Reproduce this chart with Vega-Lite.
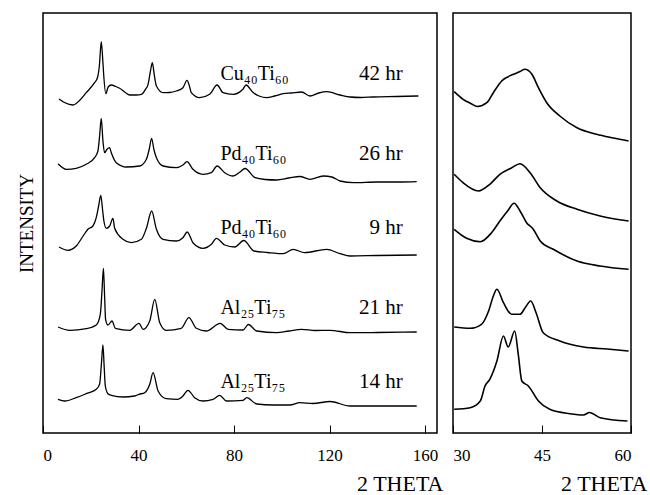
{
  "$schema": "https://vega.github.io/schema/vega-lite/v6.json",
  "padding": {"left": 16, "top": 12, "right": 0, "bottom": 0},
  "bounds": "flush",
  "config": {
    "font": "Liberation Serif",
    "view": {"stroke": "black", "strokeWidth": 1.5},
    "concat": {"spacing": 16},
    "axis": {"grid": false, "domain": false, "labelColor": "black", "titleColor": "black", "tickColor": "black", "labelFont": "Liberation Serif", "titleFont": "Liberation Serif", "titleFontWeight": "normal"},
    "text": {"font": "Liberation Serif", "color": "black"}
  },
  "datasets": {
    "left": [
      {"trace": "Cu 42", "theta": 6.7, "intensity": 334}, {"trace": "Cu 42", "theta": 9, "intensity": 330.5}, {"trace": "Cu 42", "theta": 12.6, "intensity": 328}, {"trace": "Cu 42", "theta": 15.5, "intensity": 333}, {"trace": "Cu 42", "theta": 18.1, "intensity": 340.3}, {"trace": "Cu 42", "theta": 21.6, "intensity": 350.3}, {"trace": "Cu 42", "theta": 22.8, "intensity": 355.3}, {"trace": "Cu 42", "theta": 23.6, "intensity": 367}, {"trace": "Cu 42", "theta": 24.4, "intensity": 391.3}, {"trace": "Cu 42", "theta": 25.0, "intensity": 374}, {"trace": "Cu 42", "theta": 25.4, "intensity": 358.7}, {"trace": "Cu 42", "theta": 26.3, "intensity": 339.3}, {"trace": "Cu 42", "theta": 27.3, "intensity": 346}, {"trace": "Cu 42", "theta": 28.6, "intensity": 348}, {"trace": "Cu 42", "theta": 30.5, "intensity": 346.5}, {"trace": "Cu 42", "theta": 32.1, "intensity": 344.7}, {"trace": "Cu 42", "theta": 34.5, "intensity": 340.5}, {"trace": "Cu 42", "theta": 36.3, "intensity": 338}, {"trace": "Cu 42", "theta": 39, "intensity": 338}, {"trace": "Cu 42", "theta": 41.2, "intensity": 338.7}, {"trace": "Cu 42", "theta": 43, "intensity": 344}, {"trace": "Cu 42", "theta": 44, "intensity": 348.7}, {"trace": "Cu 42", "theta": 45, "intensity": 362}, {"trace": "Cu 42", "theta": 45.8, "intensity": 370.3}, {"trace": "Cu 42", "theta": 46.6, "intensity": 358}, {"trace": "Cu 42", "theta": 47.5, "intensity": 347}, {"trace": "Cu 42", "theta": 50.3, "intensity": 340.3}, {"trace": "Cu 42", "theta": 53, "intensity": 340.5}, {"trace": "Cu 42", "theta": 55.8, "intensity": 342}, {"trace": "Cu 42", "theta": 58.6, "intensity": 345.3}, {"trace": "Cu 42", "theta": 60.3, "intensity": 352.7}, {"trace": "Cu 42", "theta": 61.2, "intensity": 348}, {"trace": "Cu 42", "theta": 62.1, "intensity": 340.3}, {"trace": "Cu 42", "theta": 65.6, "intensity": 335.3}, {"trace": "Cu 42", "theta": 69.8, "intensity": 338.7}, {"trace": "Cu 42", "theta": 72.9, "intensity": 348}, {"trace": "Cu 42", "theta": 75.4, "intensity": 340.3}, {"trace": "Cu 42", "theta": 79.6, "intensity": 338.7}, {"trace": "Cu 42", "theta": 83.8, "intensity": 344}, {"trace": "Cu 42", "theta": 85, "intensity": 348}, {"trace": "Cu 42", "theta": 88, "intensity": 340.5}, {"trace": "Cu 42", "theta": 90.5, "intensity": 337}, {"trace": "Cu 42", "theta": 93.7, "intensity": 335.3}, {"trace": "Cu 42", "theta": 97, "intensity": 337}, {"trace": "Cu 42", "theta": 100.6, "intensity": 339.3}, {"trace": "Cu 42", "theta": 104, "intensity": 340}, {"trace": "Cu 42", "theta": 108.3, "intensity": 341}, {"trace": "Cu 42", "theta": 111.8, "intensity": 337}, {"trace": "Cu 42", "theta": 115.5, "intensity": 340}, {"trace": "Cu 42", "theta": 118.8, "intensity": 341.3}, {"trace": "Cu 42", "theta": 124.4, "intensity": 338}, {"trace": "Cu 42", "theta": 128.6, "intensity": 336}, {"trace": "Cu 42", "theta": 133, "intensity": 335.5}, {"trace": "Cu 42", "theta": 138.3, "intensity": 336}, {"trace": "Cu 42", "theta": 148, "intensity": 336.5}, {"trace": "Cu 42", "theta": 157.2, "intensity": 337},

      {"trace": "Pd 26", "theta": 6.3, "intensity": 269.3}, {"trace": "Pd 26", "theta": 9.8, "intensity": 263.7}, {"trace": "Pd 26", "theta": 13.9, "intensity": 264.7}, {"trace": "Pd 26", "theta": 18.1, "intensity": 268.7}, {"trace": "Pd 26", "theta": 21.6, "intensity": 275.3}, {"trace": "Pd 26", "theta": 23, "intensity": 282}, {"trace": "Pd 26", "theta": 23.7, "intensity": 297}, {"trace": "Pd 26", "theta": 24.4, "intensity": 314.7}, {"trace": "Pd 26", "theta": 25.1, "intensity": 292}, {"trace": "Pd 26", "theta": 25.8, "intensity": 280.3}, {"trace": "Pd 26", "theta": 26.8, "intensity": 283.7}, {"trace": "Pd 26", "theta": 27.9, "intensity": 285.3}, {"trace": "Pd 26", "theta": 28.6, "intensity": 280.3}, {"trace": "Pd 26", "theta": 30.7, "intensity": 270.3}, {"trace": "Pd 26", "theta": 34.9, "intensity": 266}, {"trace": "Pd 26", "theta": 40.5, "intensity": 267}, {"trace": "Pd 26", "theta": 43.3, "intensity": 273.7}, {"trace": "Pd 26", "theta": 44.5, "intensity": 284}, {"trace": "Pd 26", "theta": 45.5, "intensity": 294.7}, {"trace": "Pd 26", "theta": 46.4, "intensity": 284}, {"trace": "Pd 26", "theta": 47.5, "intensity": 275.3}, {"trace": "Pd 26", "theta": 50.3, "intensity": 267}, {"trace": "Pd 26", "theta": 55.8, "intensity": 265.3}, {"trace": "Pd 26", "theta": 58.6, "intensity": 268}, {"trace": "Pd 26", "theta": 60.3, "intensity": 271.3}, {"trace": "Pd 26", "theta": 62.8, "intensity": 263.7}, {"trace": "Pd 26", "theta": 67, "intensity": 258.7}, {"trace": "Pd 26", "theta": 70.5, "intensity": 260.3}, {"trace": "Pd 26", "theta": 72.9, "intensity": 267}, {"trace": "Pd 26", "theta": 76.1, "intensity": 260.3}, {"trace": "Pd 26", "theta": 79.6, "intensity": 257}, {"trace": "Pd 26", "theta": 82.5, "intensity": 261}, {"trace": "Pd 26", "theta": 84.6, "intensity": 264.5}, {"trace": "Pd 26", "theta": 88.8, "intensity": 255.3}, {"trace": "Pd 26", "theta": 93, "intensity": 253.5}, {"trace": "Pd 26", "theta": 97.9, "intensity": 253}, {"trace": "Pd 26", "theta": 103, "intensity": 255}, {"trace": "Pd 26", "theta": 107.6, "intensity": 256.5}, {"trace": "Pd 26", "theta": 111.8, "intensity": 253.7}, {"trace": "Pd 26", "theta": 117.4, "intensity": 257}, {"trace": "Pd 26", "theta": 121, "intensity": 256}, {"trace": "Pd 26", "theta": 124.4, "intensity": 252}, {"trace": "Pd 26", "theta": 130, "intensity": 250.3}, {"trace": "Pd 26", "theta": 140, "intensity": 251}, {"trace": "Pd 26", "theta": 150, "intensity": 251}, {"trace": "Pd 26", "theta": 156.5, "intensity": 251.3},

      {"trace": "Pd 9", "theta": 6.7, "intensity": 186}, {"trace": "Pd 9", "theta": 10.5, "intensity": 182.7}, {"trace": "Pd 9", "theta": 13.9, "intensity": 187}, {"trace": "Pd 9", "theta": 16.8, "intensity": 197}, {"trace": "Pd 9", "theta": 18.8, "intensity": 203.7}, {"trace": "Pd 9", "theta": 20.9, "intensity": 207}, {"trace": "Pd 9", "theta": 22.3, "intensity": 215.3}, {"trace": "Pd 9", "theta": 23.3, "intensity": 227}, {"trace": "Pd 9", "theta": 24.2, "intensity": 237.7}, {"trace": "Pd 9", "theta": 25.0, "intensity": 222}, {"trace": "Pd 9", "theta": 25.5, "intensity": 212}, {"trace": "Pd 9", "theta": 26.5, "intensity": 204.7}, {"trace": "Pd 9", "theta": 27.9, "intensity": 207}, {"trace": "Pd 9", "theta": 29.3, "intensity": 214.7}, {"trace": "Pd 9", "theta": 30, "intensity": 204.7}, {"trace": "Pd 9", "theta": 33.5, "intensity": 193.7}, {"trace": "Pd 9", "theta": 37, "intensity": 190.3}, {"trace": "Pd 9", "theta": 41.2, "intensity": 193.7}, {"trace": "Pd 9", "theta": 43.3, "intensity": 204.7}, {"trace": "Pd 9", "theta": 45.5, "intensity": 222}, {"trace": "Pd 9", "theta": 47.5, "intensity": 203.7}, {"trace": "Pd 9", "theta": 50.3, "intensity": 193.7}, {"trace": "Pd 9", "theta": 55.8, "intensity": 192}, {"trace": "Pd 9", "theta": 58.6, "intensity": 195.3}, {"trace": "Pd 9", "theta": 60.4, "intensity": 201}, {"trace": "Pd 9", "theta": 62.8, "intensity": 190.3}, {"trace": "Pd 9", "theta": 67, "intensity": 184.7}, {"trace": "Pd 9", "theta": 70.5, "intensity": 188.7}, {"trace": "Pd 9", "theta": 72.6, "intensity": 194.7}, {"trace": "Pd 9", "theta": 76.1, "intensity": 188}, {"trace": "Pd 9", "theta": 80.3, "intensity": 186}, {"trace": "Pd 9", "theta": 84.1, "intensity": 192.5}, {"trace": "Pd 9", "theta": 88.4, "intensity": 182}, {"trace": "Pd 9", "theta": 94, "intensity": 180.5}, {"trace": "Pd 9", "theta": 100.6, "intensity": 179.3}, {"trace": "Pd 9", "theta": 104.8, "intensity": 183.7}, {"trace": "Pd 9", "theta": 109.5, "intensity": 180.3}, {"trace": "Pd 9", "theta": 118.8, "intensity": 183.7}, {"trace": "Pd 9", "theta": 124.4, "intensity": 179.3}, {"trace": "Pd 9", "theta": 128.6, "intensity": 177}, {"trace": "Pd 9", "theta": 140, "intensity": 177.5}, {"trace": "Pd 9", "theta": 156.5, "intensity": 178},

      {"trace": "Al 21", "theta": 6.3, "intensity": 106}, {"trace": "Al 21", "theta": 11.2, "intensity": 102.7}, {"trace": "Al 21", "theta": 18.1, "intensity": 104.3}, {"trace": "Al 21", "theta": 22.3, "intensity": 108}, {"trace": "Al 21", "theta": 24, "intensity": 118.7}, {"trace": "Al 21", "theta": 24.7, "intensity": 142}, {"trace": "Al 21", "theta": 25.3, "intensity": 164.7}, {"trace": "Al 21", "theta": 25.8, "intensity": 137}, {"trace": "Al 21", "theta": 26.2, "intensity": 113.7}, {"trace": "Al 21", "theta": 27.2, "intensity": 108}, {"trace": "Al 21", "theta": 28.9, "intensity": 112}, {"trace": "Al 21", "theta": 30.3, "intensity": 104.7}, {"trace": "Al 21", "theta": 36.3, "intensity": 102.7}, {"trace": "Al 21", "theta": 40.2, "intensity": 109.7}, {"trace": "Al 21", "theta": 41.9, "intensity": 103.7}, {"trace": "Al 21", "theta": 44.7, "intensity": 112}, {"trace": "Al 21", "theta": 46.8, "intensity": 133.7}, {"trace": "Al 21", "theta": 48.9, "intensity": 110.3}, {"trace": "Al 21", "theta": 51.6, "intensity": 102.7}, {"trace": "Al 21", "theta": 57.9, "intensity": 104.7}, {"trace": "Al 21", "theta": 61.1, "intensity": 115.3}, {"trace": "Al 21", "theta": 64.2, "intensity": 104.7}, {"trace": "Al 21", "theta": 68.4, "intensity": 102}, {"trace": "Al 21", "theta": 74.2, "intensity": 109.7}, {"trace": "Al 21", "theta": 77.5, "intensity": 103.7}, {"trace": "Al 21", "theta": 83.8, "intensity": 103}, {"trace": "Al 21", "theta": 86, "intensity": 108.5}, {"trace": "Al 21", "theta": 89.5, "intensity": 102}, {"trace": "Al 21", "theta": 97.9, "intensity": 100.3}, {"trace": "Al 21", "theta": 103, "intensity": 102}, {"trace": "Al 21", "theta": 108.3, "intensity": 103.7}, {"trace": "Al 21", "theta": 114, "intensity": 102.5}, {"trace": "Al 21", "theta": 120.2, "intensity": 102.7}, {"trace": "Al 21", "theta": 128.6, "intensity": 100.3}, {"trace": "Al 21", "theta": 140, "intensity": 100.5}, {"trace": "Al 21", "theta": 156.5, "intensity": 101},

      {"trace": "Al 14", "theta": 6.3, "intensity": 33.7}, {"trace": "Al 14", "theta": 9.1, "intensity": 32}, {"trace": "Al 14", "theta": 13.9, "intensity": 35.3}, {"trace": "Al 14", "theta": 18.1, "intensity": 39.3}, {"trace": "Al 14", "theta": 22.3, "intensity": 43.7}, {"trace": "Al 14", "theta": 23.7, "intensity": 48.7}, {"trace": "Al 14", "theta": 24.4, "intensity": 67}, {"trace": "Al 14", "theta": 25.1, "intensity": 88}, {"trace": "Al 14", "theta": 25.6, "intensity": 67}, {"trace": "Al 14", "theta": 26.1, "intensity": 47}, {"trace": "Al 14", "theta": 27.2, "intensity": 39.3}, {"trace": "Al 14", "theta": 28.6, "intensity": 37.7}, {"trace": "Al 14", "theta": 33.5, "intensity": 36}, {"trace": "Al 14", "theta": 38.4, "intensity": 37}, {"trace": "Al 14", "theta": 40.2, "intensity": 38.7}, {"trace": "Al 14", "theta": 42.6, "intensity": 40.3}, {"trace": "Al 14", "theta": 44.7, "intensity": 48.7}, {"trace": "Al 14", "theta": 46.1, "intensity": 60.3}, {"trace": "Al 14", "theta": 48.2, "intensity": 42}, {"trace": "Al 14", "theta": 51.6, "intensity": 34.3}, {"trace": "Al 14", "theta": 56.5, "intensity": 33.7}, {"trace": "Al 14", "theta": 58.6, "intensity": 37}, {"trace": "Al 14", "theta": 60.7, "intensity": 42.7}, {"trace": "Al 14", "theta": 63.5, "intensity": 35.3}, {"trace": "Al 14", "theta": 67, "intensity": 32}, {"trace": "Al 14", "theta": 71.2, "intensity": 33.7}, {"trace": "Al 14", "theta": 74, "intensity": 37.7}, {"trace": "Al 14", "theta": 76.8, "intensity": 32}, {"trace": "Al 14", "theta": 83.8, "intensity": 32.7}, {"trace": "Al 14", "theta": 85.3, "intensity": 35.3}, {"trace": "Al 14", "theta": 89.5, "intensity": 29}, {"trace": "Al 14", "theta": 96.4, "intensity": 28}, {"trace": "Al 14", "theta": 103.4, "intensity": 28}, {"trace": "Al 14", "theta": 107.6, "intensity": 30.3}, {"trace": "Al 14", "theta": 113, "intensity": 29.5}, {"trace": "Al 14", "theta": 120.2, "intensity": 31.5}, {"trace": "Al 14", "theta": 128.6, "intensity": 27}, {"trace": "Al 14", "theta": 140, "intensity": 27}, {"trace": "Al 14", "theta": 156.5, "intensity": 27}
    ],
    "right": [
      {"trace": "Cu 42", "theta": 30.2, "intensity": 341.3}, {"trace": "Cu 42", "theta": 31.7, "intensity": 333.7}, {"trace": "Cu 42", "theta": 33, "intensity": 329.5}, {"trace": "Cu 42", "theta": 34.1, "intensity": 326.5}, {"trace": "Cu 42", "theta": 35.7, "intensity": 330.3}, {"trace": "Cu 42", "theta": 36.8, "intensity": 340.3}, {"trace": "Cu 42", "theta": 38.2, "intensity": 352}, {"trace": "Cu 42", "theta": 40.2, "intensity": 358.7}, {"trace": "Cu 42", "theta": 41.3, "intensity": 361.5}, {"trace": "Cu 42", "theta": 42.1, "intensity": 363.7}, {"trace": "Cu 42", "theta": 43.3, "intensity": 358.7}, {"trace": "Cu 42", "theta": 44.4, "intensity": 345.3}, {"trace": "Cu 42", "theta": 45.8, "intensity": 330.3}, {"trace": "Cu 42", "theta": 48, "intensity": 317}, {"trace": "Cu 42", "theta": 50.9, "intensity": 305.3}, {"trace": "Cu 42", "theta": 54.2, "intensity": 298.7}, {"trace": "Cu 42", "theta": 57, "intensity": 295}, {"trace": "Cu 42", "theta": 59.6, "intensity": 292},
      {"trace": "Pd 26", "theta": 30.2, "intensity": 258.7}, {"trace": "Pd 26", "theta": 31.7, "intensity": 250.3}, {"trace": "Pd 26", "theta": 34.3, "intensity": 242}, {"trace": "Pd 26", "theta": 36.2, "intensity": 248.7}, {"trace": "Pd 26", "theta": 37.9, "intensity": 258.7}, {"trace": "Pd 26", "theta": 39.9, "intensity": 265.3}, {"trace": "Pd 26", "theta": 41.3, "intensity": 269.3}, {"trace": "Pd 26", "theta": 43, "intensity": 260.3}, {"trace": "Pd 26", "theta": 44.7, "intensity": 245.3}, {"trace": "Pd 26", "theta": 47.5, "intensity": 232}, {"trace": "Pd 26", "theta": 50.9, "intensity": 223.7}, {"trace": "Pd 26", "theta": 54.8, "intensity": 217}, {"trace": "Pd 26", "theta": 59.6, "intensity": 212},
      {"trace": "Pd 9", "theta": 30.2, "intensity": 203.7}, {"trace": "Pd 9", "theta": 32.3, "intensity": 194.7}, {"trace": "Pd 9", "theta": 34.6, "intensity": 191.3}, {"trace": "Pd 9", "theta": 36.5, "intensity": 200.3}, {"trace": "Pd 9", "theta": 37.9, "intensity": 212}, {"trace": "Pd 9", "theta": 39.2, "intensity": 222}, {"trace": "Pd 9", "theta": 40.3, "intensity": 229.7}, {"trace": "Pd 9", "theta": 41.3, "intensity": 222}, {"trace": "Pd 9", "theta": 42.4, "intensity": 210.3}, {"trace": "Pd 9", "theta": 43.5, "intensity": 204}, {"trace": "Pd 9", "theta": 44.7, "intensity": 192}, {"trace": "Pd 9", "theta": 46.9, "intensity": 183.7}, {"trace": "Pd 9", "theta": 50.9, "intensity": 172}, {"trace": "Pd 9", "theta": 54.8, "intensity": 167}, {"trace": "Pd 9", "theta": 59.6, "intensity": 163.7},
      {"trace": "Al 21", "theta": 30.2, "intensity": 106}, {"trace": "Al 21", "theta": 32.9, "intensity": 104.7}, {"trace": "Al 21", "theta": 34.8, "intensity": 108.7}, {"trace": "Al 21", "theta": 36, "intensity": 122}, {"trace": "Al 21", "theta": 36.8, "intensity": 137}, {"trace": "Al 21", "theta": 37.4, "intensity": 143.7}, {"trace": "Al 21", "theta": 38.5, "intensity": 130.3}, {"trace": "Al 21", "theta": 39.9, "intensity": 118.7}, {"trace": "Al 21", "theta": 41.3, "intensity": 118.7}, {"trace": "Al 21", "theta": 42.1, "intensity": 124.7}, {"trace": "Al 21", "theta": 43.1, "intensity": 132}, {"trace": "Al 21", "theta": 44, "intensity": 120.3}, {"trace": "Al 21", "theta": 45.2, "intensity": 100.3}, {"trace": "Al 21", "theta": 48, "intensity": 92}, {"trace": "Al 21", "theta": 52, "intensity": 86}, {"trace": "Al 21", "theta": 56, "intensity": 84}, {"trace": "Al 21", "theta": 59.6, "intensity": 82},
      {"trace": "Al 14", "theta": 30.2, "intensity": 23.7}, {"trace": "Al 14", "theta": 32.9, "intensity": 25.3}, {"trace": "Al 14", "theta": 34.6, "intensity": 32}, {"trace": "Al 14", "theta": 35.4, "intensity": 47}, {"trace": "Al 14", "theta": 36.2, "intensity": 53.7}, {"trace": "Al 14", "theta": 37.4, "intensity": 72}, {"trace": "Al 14", "theta": 38.5, "intensity": 97}, {"trace": "Al 14", "theta": 39.3, "intensity": 86}, {"trace": "Al 14", "theta": 40.4, "intensity": 102}, {"trace": "Al 14", "theta": 41, "intensity": 78.7}, {"trace": "Al 14", "theta": 41.6, "intensity": 52}, {"trace": "Al 14", "theta": 42.7, "intensity": 47}, {"trace": "Al 14", "theta": 44.4, "intensity": 32}, {"trace": "Al 14", "theta": 46.3, "intensity": 23.7}, {"trace": "Al 14", "theta": 49.7, "intensity": 19.3}, {"trace": "Al 14", "theta": 52, "intensity": 18}, {"trace": "Al 14", "theta": 53, "intensity": 20.5}, {"trace": "Al 14", "theta": 54.8, "intensity": 15.3}, {"trace": "Al 14", "theta": 59.4, "intensity": 12}
    ],
    "labels": [
      {"sample": "Cu₄₀Ti₆₀", "hours": "42  hr", "level": 352.7},
      {"sample": "Pd₄₀Ti₆₀", "hours": "26  hr", "level": 272.7},
      {"sample": "Pd₄₀Ti₆₀", "hours": "9  hr", "level": 198.7},
      {"sample": "Al₂₅Ti₇₅", "hours": "21  hr", "level": 118.7},
      {"sample": "Al₂₅Ti₇₅", "hours": "14  hr", "level": 45.3}
    ]
  },
  "hconcat": [
    {
      "width": 394,
      "height": 420,
      "layer": [
        {
          "data": {"name": "left"},
          "mark": {"type": "line", "color": "black", "strokeWidth": 1.3, "interpolate": "monotone"},
          "encoding": {
            "x": {"field": "theta", "type": "quantitative", "scale": {"domain": [0, 165], "nice": false, "zero": false},
                  "axis": {"values": [0, 40, 80, 120, 160], "tickSize": -8, "labelPadding": 22, "labelFontSize": 17, "labelFont": "Liberation Serif", "labelFlush": true, "title": "2 THETA", "titleFont": "Liberation Serif", "titleFontSize": 22, "titleAnchor": "end", "titleAlign": "right", "titleX": 400, "titlePadding": 10}},
            "y": {"field": "intensity", "type": "quantitative", "scale": {"domain": [0, 420], "nice": false},
                  "axis": {"title": "INTENSITY", "titleFont": "Liberation Serif", "labels": false, "ticks": false, "titleFontSize": 19, "titlePadding": 7}},
            "detail": {"field": "trace"}
          }
        },
        {
          "data": {"name": "labels"},
          "mark": {"type": "text", "align": "left", "baseline": "alphabetic", "fontSize": 20, "font": "Liberation Serif"},
          "encoding": {
            "x": {"datum": 74.3, "type": "quantitative"},
            "y": {"field": "level", "type": "quantitative"},
            "text": {"field": "sample"}
          }
        },
        {
          "data": {"name": "labels"},
          "mark": {"type": "text", "align": "right", "baseline": "alphabetic", "fontSize": 21, "font": "Liberation Serif"},
          "encoding": {
            "x": {"datum": 150.7, "type": "quantitative"},
            "y": {"field": "level", "type": "quantitative"},
            "text": {"field": "hours"}
          }
        }
      ]
    },
    {
      "width": 178,
      "height": 420,
      "data": {"name": "right"},
      "mark": {"type": "line", "color": "black", "strokeWidth": 1.6, "interpolate": "monotone"},
      "encoding": {
        "x": {"field": "theta", "type": "quantitative", "scale": {"domain": [30, 60], "nice": false, "zero": false},
              "axis": {"values": [30, 45, 60], "tickSize": -8, "labelPadding": 22, "labelFontSize": 17, "labelFont": "Liberation Serif", "title": "2 THETA", "titleFont": "Liberation Serif", "titleFontSize": 22, "titleAnchor": "end", "titleAlign": "right", "titleX": 194, "titlePadding": 10}},
        "y": {"field": "intensity", "type": "quantitative", "scale": {"domain": [0, 420], "nice": false}, "axis": null},
        "detail": {"field": "trace"}
      }
    }
  ]
}
